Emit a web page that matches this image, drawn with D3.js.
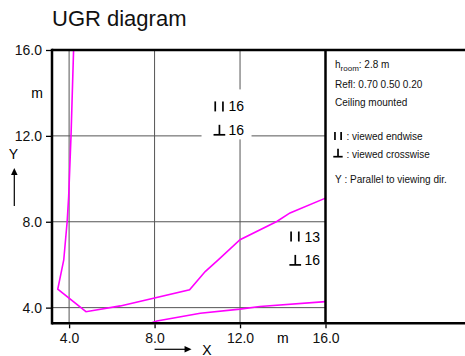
<!DOCTYPE html>
<html>
<head>
<meta charset="utf-8">
<script src="https://cdn.jsdelivr.net/npm/d3@7"></script>
<style>
    body { margin: 0; background: #fff; }
    svg { display: block; font-family: 'Liberation Sans', Arial, sans-serif; }
    .grid { stroke: #555; stroke-width: 1; }
    .frame { stroke: #000; stroke-width: 2.5; }
    .curve { fill: none; stroke: #ff00ff; stroke-width: 1.6; }
    .sym { stroke: #000; stroke-width: 1.7; }
</style>
</head>
<body>
<div id="chart"></div>
<script>
'use strict';

// Axis ticks (m)
const xTicks = [4, 8, 12, 16];
const yTicks = [4, 8, 12, 16];

// UGR isolines, [X, Y] in m
const lineA = [
    [4.21, 16.0], [4.09, 12.0], [3.98, 9.17], [3.91, 8.01], [3.75, 6.22],
    [3.47, 4.86], [4.79, 3.81], [6.40, 4.08], [9.64, 4.83], [10.37, 5.68],
    [10.98, 6.22], [12.0, 7.16], [13.72, 8.01], [14.34, 8.41], [16.0, 9.10]
];
const lineB = [
    [7.8, 3.27], [8.11, 3.38], [10.14, 3.74], [12.0, 3.93], [12.93, 4.05], [16.0, 4.28]
];

// UGR values at [X, Y]
const ugrLabels = [
    {x: 10.76, y: 13.14, endwise: 16, crosswise: 16, mask: true},
    {x: 14.31, y: 7.08, endwise: 13, crosswise: 16, mask: false}
];

// Legend
const roomHeight = '2.8 m';
const reflectances = ['0.70', '0.50', '0.20'];
const mounting = 'Ceiling mounted';

class UgrDiagram {

    constructor(_ref) {
        this.parent = _ref;
        this.initVis();
    }

    initVis() {
        // Get this vis
        const vis = this;

        // Config
        vis.w = 465;
        vis.h = 356;
        vis.plot = {left: 52, top: 50, right: 325.5, bottom: 323.3};

        vis.svg = d3.select(`#${vis.parent}`)
            .append('svg')
            .attr('width', vis.w)
            .attr('height', vis.h);

        // Scales
        vis.xScale = d3.scaleLinear()
            .domain([3.2, 16])
            .range([vis.plot.left, vis.plot.right]);
        vis.yScale = d3.scaleLinear()
            .domain([3.27, 16])
            .range([vis.plot.bottom, vis.plot.top]);

        // Title
        vis.svg.append('text')
            .attr('x', 52)
            .attr('y', 26)
            .attr('font-size', 22)
            .attr('fill', '#111')
            .text('UGR diagram');

        vis.drawGrid();
        vis.drawCurves();
        vis.drawLabels();
        vis.drawFrame();
        vis.drawAxes();
        vis.drawLegend();
    }

    drawGrid() {
        const vis = this;
        const g = vis.svg.append('g');

        g.selectAll('.vgrid')
            .data(xTicks.filter(d => d < 16))
            .join('line')
            .attr('class', 'grid')
            .attr('x1', d => vis.xScale(d))
            .attr('x2', d => vis.xScale(d))
            .attr('y1', vis.plot.top)
            .attr('y2', vis.plot.bottom);

        g.selectAll('.hgrid')
            .data(yTicks.filter(d => d < 16))
            .join('line')
            .attr('class', 'grid')
            .attr('x1', vis.plot.left)
            .attr('x2', vis.plot.right)
            .attr('y1', d => vis.yScale(d))
            .attr('y2', d => vis.yScale(d));
    }

    drawCurves() {
        const vis = this;

        vis.svg.append('clipPath')
            .attr('id', 'plotClip')
            .append('rect')
            .attr('x', vis.plot.left)
            .attr('y', vis.plot.top)
            .attr('width', vis.plot.right - vis.plot.left)
            .attr('height', vis.plot.bottom - vis.plot.top);

        const line = d3.line()
            .x(d => vis.xScale(d[0]))
            .y(d => vis.yScale(d[1]));

        vis.svg.append('g')
            .attr('clip-path', 'url(#plotClip)')
            .selectAll('path')
            .data([lineA, lineB])
            .join('path')
            .attr('class', 'curve')
            .attr('d', line);
    }

    // II = viewed endwise, ⊥ = viewed crosswise
    symbol(g, type, x, base, s) {
        if (type === 'end') {
            [1.7, 9.4].forEach(dx => {
                g.append('line').attr('class', 'sym')
                    .attr('x1', x + dx * s).attr('x2', x + dx * s)
                    .attr('y1', base - 10 * s).attr('y2', base);
            });
        } else {
            g.append('line').attr('class', 'sym')
                .attr('x1', x + 5.9 * s).attr('x2', x + 5.9 * s)
                .attr('y1', base - 10 * s).attr('y2', base);
            g.append('line').attr('class', 'sym')
                .attr('x1', x).attr('x2', x + 11.7 * s)
                .attr('y1', base).attr('y2', base);
        }
    }

    drawLabels() {
        const vis = this;

        ugrLabels.forEach(d => {
            const g = vis.svg.append('g');
            const x = vis.xScale(d.x);
            const y = vis.yScale(d.y);

            if (d.mask) {
                g.append('rect')
                    .attr('x', x - 12)
                    .attr('y', y - 22)
                    .attr('width', 50)
                    .attr('height', 50)
                    .attr('fill', '#fff');
            }

            vis.symbol(g, 'end', x, y, 1);
            vis.symbol(g, 'cross', x, y + 23.4, 1);

            g.append('text')
                .attr('x', x + 15)
                .attr('y', y)
                .attr('font-size', 14)
                .text(d.endwise);
            g.append('text')
                .attr('x', x + 15)
                .attr('y', y + 23.4)
                .attr('font-size', 14)
                .text(d.crosswise);
        });
    }

    drawFrame() {
        const vis = this;
        const p = vis.plot;
        const g = vis.svg.append('g');

        const segs = [
            [p.left, p.top, vis.w, p.top],
            [p.left, p.bottom, vis.w, p.bottom],
            [p.left, p.top - 1.2, p.left, p.bottom + 1.2],
            [p.right, p.top, p.right, p.bottom]
        ];
        g.selectAll('line')
            .data(segs)
            .join('line')
            .attr('class', 'frame')
            .attr('x1', d => d[0])
            .attr('y1', d => d[1])
            .attr('x2', d => d[2])
            .attr('y2', d => d[3]);
    }

    drawAxes() {
        const vis = this;
        const fmt = d3.format('.1f');

        // Y axis
        const yAxis = vis.svg.append('g')
            .attr('transform', `translate(${vis.plot.left - 1},0)`)
            .call(d3.axisLeft(vis.yScale).tickValues(yTicks).tickSize(5).tickPadding(4).tickFormat(fmt));
        // X axis
        const xAxis = vis.svg.append('g')
            .attr('transform', `translate(0,${vis.plot.bottom + 1})`)
            .call(d3.axisBottom(vis.xScale).tickValues(xTicks).tickSize(4).tickPadding(5).tickFormat(fmt));

        [yAxis, xAxis].forEach(a => {
            a.select('.domain').remove();
            a.attr('font-family', null).attr('font-size', 14);
            a.selectAll('.tick line').attr('stroke', '#000').attr('stroke-width', 1.3);
            a.selectAll('.tick text').attr('fill', '#111');
        });

        // Units
        vis.svg.append('text')
            .attr('x', 37)
            .attr('y', vis.yScale(14) + 5)
            .attr('text-anchor', 'middle')
            .attr('font-size', 14)
            .text('m');
        vis.svg.append('text')
            .attr('x', vis.xScale(14))
            .attr('y', 342.7)
            .attr('text-anchor', 'middle')
            .attr('font-size', 14)
            .text('m');

        // Axis names with arrows
        const arrow = vis.svg.append('g');
        const ax = vis.xScale(8);
        arrow.append('line').attr('x1', ax).attr('x2', ax + 31)
            .attr('y1', 349.3).attr('y2', 349.3).attr('stroke', '#000').attr('stroke-width', 1.2);
        arrow.append('path').attr('d', `M${ax + 30},346 L${ax + 37},349.3 L${ax + 30},352.6 Z`);
        arrow.append('text').attr('x', 207).attr('y', 354.5).attr('text-anchor', 'middle')
            .attr('font-size', 14).text('X');

        arrow.append('line').attr('x1', 14.3).attr('x2', 14.3)
            .attr('y1', 206).attr('y2', 174).attr('stroke', '#000').attr('stroke-width', 1.2);
        arrow.append('path').attr('d', 'M11,175 L14.3,168 L17.6,175 Z');
        arrow.append('text').attr('x', 13.5).attr('y', 159.3).attr('text-anchor', 'middle')
            .attr('font-size', 14).text('Y');
    }

    drawLegend() {
        const vis = this;
        const g = vis.svg.append('g')
            .attr('font-size', 10)
            .attr('fill', '#111');
        const lx = 335;

        const h = g.append('text').attr('x', lx).attr('y', 68.3);
        h.append('tspan').text('h');
        h.append('tspan').attr('font-size', 8).attr('dy', 3).text('room');
        h.append('tspan').attr('dy', -3).text(`: ${roomHeight}`);

        g.append('text').attr('x', lx).attr('y', 87.7)
            .text(`Refl: ${reflectances.join(' ')}`);
        g.append('text').attr('x', lx).attr('y', 105.7)
            .text(mounting);

        vis.symbol(g, 'end', lx - 1.4, 140, 0.8);
        g.append('text').attr('x', 346.5).attr('y', 140).text(': viewed endwise');
        vis.symbol(g, 'cross', lx - 1.7, 156.7, 0.8);
        g.append('text').attr('x', 346.5).attr('y', 158.3).text(': viewed crosswise');

        g.append('text').attr('x', lx).attr('y', 182.7).text('Y');
        g.append('text').attr('x', 344.5).attr('y', 182.7).text(': Parallel to viewing dir.');
    }
}

new UgrDiagram('chart');
</script>
</body>
</html>
